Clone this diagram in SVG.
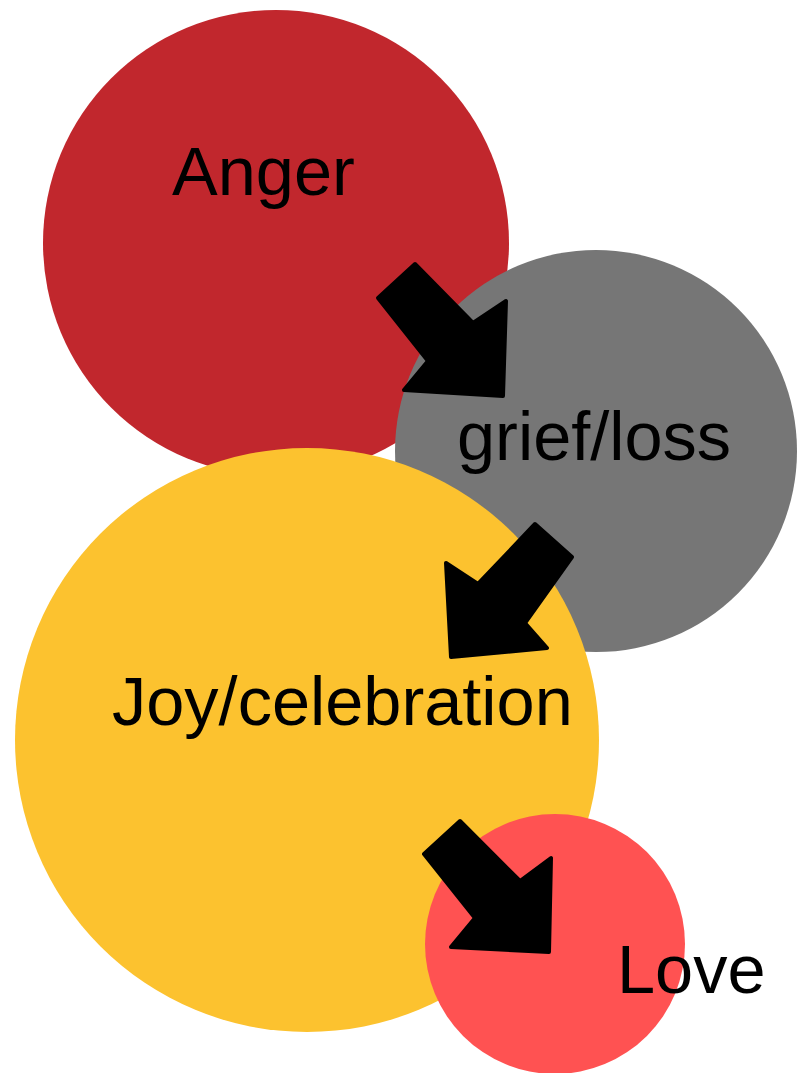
<svg xmlns="http://www.w3.org/2000/svg" width="800" height="1073" viewBox="0 0 800 1073">
<style>
.lbl{font-family:"Liberation Sans",Arial,sans-serif;font-size:68.5px;fill:#000}
.arr{fill:#000;stroke:#000;stroke-width:4;stroke-linejoin:round}
</style>
<rect width="800" height="1073" fill="#fff"/>
<g id="anger"><circle cx="276" cy="243" r="233" fill="#C1272D"/></g>
<g id="grief"><circle cx="596" cy="451" r="201" fill="#767676"/></g>
<g id="joy"><circle cx="307" cy="740" r="292" fill="#FCC22F"/></g>
<g id="love"><circle cx="555" cy="944" r="130" fill="#FF5252"/></g>
<g id="connectors">
<path class="arr" d="M415,264 L473,323 L506,301 L503,396 L404,390 L428,361 L378,298 Z"/>
<path class="arr" d="M535,524 L572,557 L525,623 L547,648 L451,657 L446,563 L478,584 Z"/>
<path class="arr" d="M460,821 L520,881 L551,858 L549,952 L451,947 L475,918 L424,854 Z"/>
</g>
<g id="labels">
<text class="lbl" x="172" y="195">Anger</text>
<text class="lbl" x="457" y="460">grief/loss</text>
<text class="lbl" x="112" y="725">Joy/celebration</text>
<text class="lbl" x="617" y="993">Love</text>
</g>
</svg>
